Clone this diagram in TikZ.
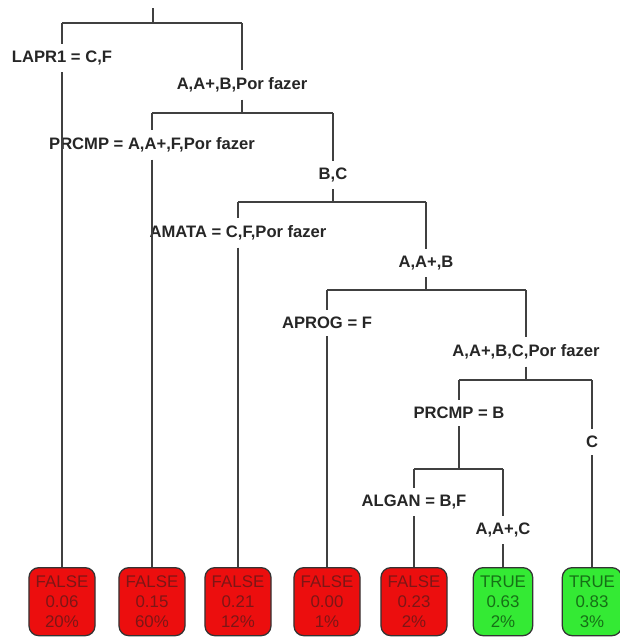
\documentclass[tikz,border=0pt]{standalone}
\usepackage{fontspec}
\setmainfont{Liberation Sans}
\usepackage{tikz}

\definecolor{leafred}{RGB}{236,14,14}
\definecolor{leafredtext}{RGB}{125,22,22}
\definecolor{leafgreen}{RGB}{52,234,52}
\definecolor{leafgreentext}{RGB}{22,112,22}

\tikzset{
  split/.style={fill=white, text=black!85, inner xsep=2pt, inner ysep=5pt,
    font=\fontsize{11.8}{13}\selectfont\bfseries},
  branch/.style={line width=1.3pt, draw=black!75},
  leafbox/.style={anchor=north, draw=black!80, line width=0.9pt, rounded corners=7pt,
    align=center, inner xsep=4.8pt, minimum height=48.4pt,
    font=\fontsize{12}{14.2}\selectfont},
  leaffalse/.style={leafbox, fill=leafred, text=leafredtext},
  leaftrue/.style={leafbox, fill=leafgreen, text=leafgreentext},
}

\begin{document}
\begin{tikzpicture}[x=0.025cm, y=-0.025cm]
      \useasboundingbox (0,0) rectangle (619,638);

      % Root and first split
      \coordinate (top) at (153,8);
      \coordinate (j1) at (153,23);
      \coordinate (j1l) at (62,23);
      \coordinate (j1r) at (242,23);
      \node[split] (lapr) at (62,58) {LAPR1 = C,F};
      \node[split] (n2) at (242,85) {A,A+,B,Por fazer};

      % Second split
      \coordinate (j2) at (242,113);
      \coordinate (j2l) at (152,113);
      \coordinate (j2r) at (333,113);
      \node[split] (prcmp) at (152,145) {PRCMP = A,A+,F,Por fazer};
      \node[split] (n3) at (333,175) {B,C};

      % Third split
      \coordinate (j3) at (333,202);
      \coordinate (j3l) at (238,202);
      \coordinate (j3r) at (426,202);
      \node[split] (amata) at (238,233) {AMATA = C,F,Por fazer};
      \node[split] (n4) at (426,263) {A,A+,B};

      % Fourth split
      \coordinate (j4) at (426,290);
      \coordinate (j4l) at (327,290);
      \coordinate (j4r) at (526,290);
      \node[split] (aprog) at (327,323) {APROG = F};
      \node[split] (n5) at (526,352) {A,A+,B,C,Por fazer};

      % Fifth split
      \coordinate (j5) at (526,380);
      \coordinate (j5l) at (459,380);
      \coordinate (j5r) at (592,380);
      \node[split] (prcmpb) at (459,413) {PRCMP = B};
      \node[split] (n7) at (592,442) {C};

      % Sixth split
      \coordinate (j6) at (459,469);
      \coordinate (j6l) at (414,469);
      \coordinate (j6r) at (503,469);
      \node[split] (algan) at (414,502) {ALGAN = B,F};
      \node[split] (n6) at (503,530) {A,A+,C};

      % Leaves
      \node[leaffalse] (f1) at (62,567) {FALSE\\0.06\\20\%};
      \node[leaffalse] (f2) at (152,567) {FALSE\\0.15\\60\%};
      \node[leaffalse] (f3) at (238,567) {FALSE\\0.21\\12\%};
      \node[leaffalse] (f4) at (327,567) {FALSE\\0.00\\1\%};
      \node[leaffalse] (f5) at (414,567) {FALSE\\0.23\\2\%};
      \node[leaftrue] (t6) at (503,567) {TRUE\\0.63\\2\%};
      \node[leaftrue] (t7) at (592,567) {TRUE\\0.83\\3\%};

      % Branches
      \draw[branch] (top) -- (j1);
      \draw[branch] (j1l) -- (j1r);
      \draw[branch] (j1l) -- (lapr) -- (f1);
      \draw[branch] (j1r) -- (n2) -- (j2);
      \draw[branch] (j2l) -- (j2r);
      \draw[branch] (j2l) -- (prcmp) -- (f2);
      \draw[branch] (j2r) -- (n3) -- (j3);
      \draw[branch] (j3l) -- (j3r);
      \draw[branch] (j3l) -- (amata) -- (f3);
      \draw[branch] (j3r) -- (n4) -- (j4);
      \draw[branch] (j4l) -- (j4r);
      \draw[branch] (j4l) -- (aprog) -- (f4);
      \draw[branch] (j4r) -- (n5) -- (j5);
      \draw[branch] (j5l) -- (j5r);
      \draw[branch] (j5l) -- (prcmpb) -- (j6);
      \draw[branch] (j5r) -- (n7) -- (t7);
      \draw[branch] (j6l) -- (j6r);
      \draw[branch] (j6l) -- (algan) -- (f5);
      \draw[branch] (j6r) -- (n6) -- (t6);
    \end{tikzpicture}
\end{document}
